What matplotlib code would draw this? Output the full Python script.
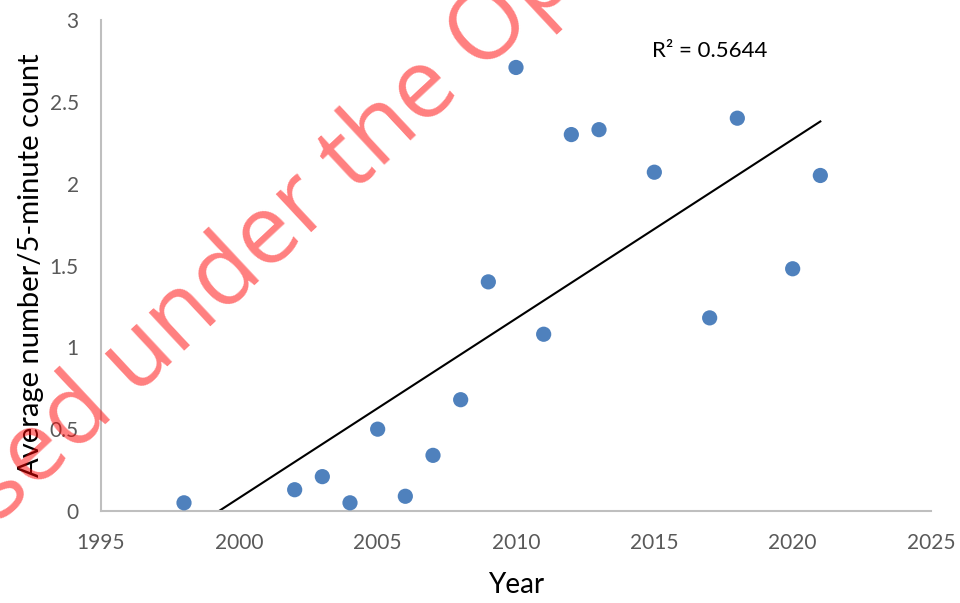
import numpy as np
import matplotlib
matplotlib.use('Agg')
import matplotlib.pyplot as plt

# Survey years and mean counts per 5-minute point count
years = [1998, 2002, 2003, 2004, 2005, 2006, 2007, 2008, 2009, 2010,
         2011, 2012, 2013, 2015, 2017, 2018, 2020, 2021]
avg_count = [0.05, 0.13, 0.21, 0.05, 0.50, 0.09, 0.34, 0.68, 1.40, 2.71,
             1.08, 2.30, 2.33, 2.07, 1.18, 2.40, 1.48, 2.05]
r2_text = 'R² = 0.5644'

x_ticks = [1995, 2000, 2005, 2010, 2015, 2020, 2025]
y_ticks = [0, 0.5, 1, 1.5, 2, 2.5, 3]
y_tick_labels = ['0', '0.5', '1', '1.5', '2', '2.5', '3']

plt.rcParams['font.family'] = ['Lato', 'DejaVu Sans']

fig = plt.figure(figsize=(9.6, 6.03), dpi=100)
ax = fig.add_axes([101/960, 92/603, 830/960, 491/603])
ax.patch.set_visible(False)

# Linear trendline over the data range
slope, intercept = np.polyfit(years, avg_count, 1)
x_fit = np.array([min(years), max(years)])
ax.plot(x_fit, slope*x_fit + intercept, color='black', lw=1.5, zorder=2)

ax.scatter(years, avg_count, s=120, color='#4F81BD', edgecolors='none', zorder=3)

ax.set_xlim(1995, 2025)
ax.set_ylim(0, 3)
ax.set_xticks(x_ticks)
ax.set_yticks(y_ticks)
ax.set_yticklabels(y_tick_labels)
ax.tick_params(length=0, labelsize=15, labelcolor='#595959')
ax.tick_params(axis='y', pad=16)
ax.tick_params(axis='x', pad=16)

for side in ['top', 'right']:
  ax.spines[side].set_visible(False)
for side in ['left', 'bottom']:
  ax.spines[side].set_color('#BFBFBF')
  ax.spines[side].set_linewidth(1.5)

ax.set_xlabel('Year', fontsize=20, color='black')
ax.xaxis.set_label_coords(0.5, -0.124)
ax.xaxis.label.set_va('top')
ax.set_ylabel('Average number/5-minute count', fontsize=21, color='black')
ax.yaxis.set_label_coords(-0.069, 0.5)

ax.text(0.733, 0.937, r2_text, transform=ax.transAxes, fontsize=16,
        color='black', ha='center', va='center')

# Diagonal licence watermark
fig.text(-0.189, -0.148, 'Released under the Open Government Licence',
         fontsize=70, color='red', alpha=0.5, rotation=43,
         rotation_mode='anchor', ha='left', va='baseline',
         family=['Open Sans', 'DejaVu Sans'], zorder=10)

fig.savefig('out.png', dpi=100, facecolor='white')
